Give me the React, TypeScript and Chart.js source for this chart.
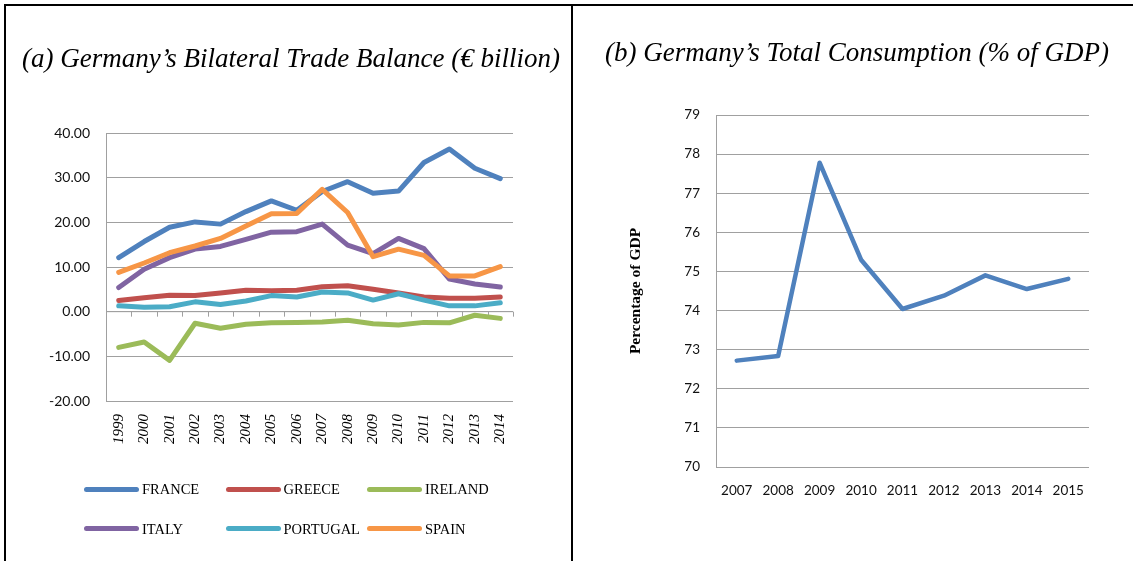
import React, { useEffect, useRef } from "react";
import { Chart, registerables } from "chart.js";

Chart.register(...registerables);

// ---------- Data: panel (a) ----------
const years = ["1999", "2000", "2001", "2002", "2003", "2004", "2005", "2006", "2007", "2008", "2009", "2010", "2011", "2012", "2013", "2014"];
const france = [12.1, 15.7, 18.9, 20.1, 19.6, 22.4, 24.8, 22.7, 26.9, 29.1, 26.5, 27.0, 33.4, 36.4, 32.1, 29.8];
const greece = [2.5, 3.1, 3.7, 3.6, 4.2, 4.8, 4.7, 4.8, 5.6, 5.8, 5.0, 4.2, 3.3, 3.0, 3.0, 3.3];
const ireland = [-8.0, -6.8, -10.9, -2.6, -3.7, -2.8, -2.5, -2.4, -2.3, -1.9, -2.7, -3.0, -2.4, -2.5, -0.8, -1.5];
const italy = [5.4, 9.5, 12.1, 14.0, 14.6, 16.2, 17.8, 17.9, 19.6, 14.9, 13.0, 16.4, 14.1, 7.3, 6.2, 5.5];
const portugal = [1.3, 1.0, 1.1, 2.2, 1.6, 2.4, 3.6, 3.3, 4.4, 4.2, 2.6, 4.0, 2.6, 1.3, 1.3, 2.0];
const spain = [8.8, 10.9, 13.2, 14.7, 16.4, 19.2, 21.9, 22.0, 27.4, 22.2, 12.3, 14.0, 12.6, 8.0, 8.0, 10.1];
const seriesNames = ["FRANCE", "GREECE", "IRELAND", "ITALY", "PORTUGAL", "SPAIN"];
const seriesValues = [france, greece, ireland, italy, portugal, spain];
const seriesColors = ["#4F81BD", "#C0504D", "#9BBB59", "#8064A2", "#4BACC6", "#F79646"];
const tradeMin = -20;
const tradeMax = 40;
const tradeStep = 10;

// ---------- Data: panel (b) ----------
const consYears = ["2007", "2008", "2009", "2010", "2011", "2012", "2013", "2014", "2015"];
const consumption = [72.72, 72.84, 77.78, 75.3, 74.04, 74.38, 74.9, 74.55, 74.81];
const consMin = 70;
const consMax = 79;
const consStep = 1;

const titleA = "(a) Germany\u2019s Bilateral Trade Balance (\u20AC billion)";
const titleB = "(b) Germany\u2019s Total Consumption (% of GDP)";
const yTitleB = "Percentage of GDP";

const gridColor = "#A0A0A0";
const sansFont = "Lato, 'Open Sans', sans-serif";
const serifFont = "'Liberation Serif', 'DejaVu Serif', serif";

const zeroAxisPlugin = {
  id: "zeroAxis",
  beforeDatasetsDraw(chart: any) {
    const { ctx, chartArea, scales } = chart;
    const y0 = scales.y.getPixelForValue(0);
    const xs = scales.x;
    const n = xs.ticks.length;
    ctx.save();
    ctx.strokeStyle = gridColor;
    ctx.lineWidth = 1;
    ctx.beginPath();
    ctx.moveTo(chartArea.left, y0);
    ctx.lineTo(chartArea.right, y0);
    for (let i = 0; i <= n; i++) {
      const x = Math.round(xs.getPixelForValue(i - 0.5)) + 0.5;
      ctx.moveTo(x, y0);
      ctx.lineTo(x, y0 + 5);
    }
    ctx.stroke();
    ctx.restore();
  },
};

export default function App() {
  const leftRef = useRef<HTMLCanvasElement>(null);
  const rightRef = useRef<HTMLCanvasElement>(null);

  useEffect(() => {
    const left = new Chart(leftRef.current!, {
      type: "line",
      data: {
        labels: years,
        datasets: seriesValues.map((d, i) => ({
          label: seriesNames[i],
          data: d,
          borderColor: seriesColors[i],
          backgroundColor: seriesColors[i],
          borderWidth: 5,
          pointRadius: 0,
          tension: 0,
          borderJoinStyle: "round" as const,
          borderCapStyle: "round" as const,
          order: seriesValues.length - i,
        })),
      },
      options: {
        responsive: false,
        animation: false,
        layout: { padding: { left: 0, top: 133, right: 58, bottom: 0 } },
        plugins: { legend: { display: false }, tooltip: { enabled: false }, title: { display: false } },
        scales: {
          x: {
            offset: true,
            grid: { display: false },
            border: { display: false },
            ticks: {
              minRotation: 90,
              maxRotation: 90,
              autoSkip: false,
              padding: 5,
              color: "#000",
              font: { family: serifFont, style: "italic", size: 15 },
            },
            afterFit: (s: any) => {
              s.height = 160;
            },
          },
          y: {
            min: tradeMin,
            max: tradeMax,
            ticks: {
              stepSize: tradeStep,
              padding: 16,
              color: "#111",
              font: { family: sansFont, size: 14 },
              callback: (v: any) => Number(v).toFixed(2),
            },
            grid: { color: gridColor, lineWidth: 1, drawTicks: false },
            border: { display: true, color: gridColor, width: 1 },
            afterFit: (s: any) => {
              s.width = 106;
            },
          },
        },
      },
      plugins: [zeroAxisPlugin],
    } as any);

    const right = new Chart(rightRef.current!, {
      type: "line",
      data: {
        labels: consYears,
        datasets: [
          {
            label: "Consumption",
            data: consumption,
            borderColor: "#4F81BD",
            backgroundColor: "#4F81BD",
            borderWidth: 4.5,
            pointRadius: 0,
            tension: 0,
            borderJoinStyle: "round" as const,
            borderCapStyle: "round" as const,
          },
        ],
      },
      options: {
        responsive: false,
        animation: false,
        layout: { padding: { left: 0, top: 115, right: 44, bottom: 0 } },
        plugins: { legend: { display: false }, tooltip: { enabled: false }, title: { display: false } },
        scales: {
          x: {
            offset: true,
            grid: { display: false },
            border: { display: false },
            ticks: {
              maxRotation: 0,
              autoSkip: false,
              padding: 8,
              color: "#111",
              font: { family: sansFont, size: 13.5 },
            },
            afterFit: (s: any) => {
              s.height = 94;
            },
          },
          y: {
            min: consMin,
            max: consMax,
            ticks: {
              stepSize: consStep,
              padding: 16,
              color: "#111",
              font: { family: sansFont, size: 13.5 },
            },
            grid: { color: gridColor, lineWidth: 1, drawTicks: false },
            border: { display: true, color: gridColor, width: 1 },
            title: {
              display: true,
              text: yTitleB,
              color: "#000",
              font: { family: serifFont, weight: "bold", size: 15.5 },
              padding: { top: 54, bottom: 0 },
            },
            afterFit: (s: any) => {
              s.width = 143;
            },
          },
        },
      },
    } as any);

    return () => {
      left.destroy();
      right.destroy();
    };
  }, []);

  return (
    <div style={{ position: "absolute", left: 0, top: 0, width: 1133, height: 561, overflow: "hidden", background: "#fff" }}>
      <canvas ref={leftRef} width={571} height={561} style={{ position: "absolute", left: 0, top: 0 }} />
      <canvas ref={rightRef} width={560} height={561} style={{ position: "absolute", left: 573, top: 0 }} />
      {/* frame lines */}
      <div style={{ position: "absolute", left: 4, top: 4, width: 1129, height: 2, background: "#000" }} />
      <div style={{ position: "absolute", left: 4, top: 4, width: 2, height: 557, background: "#000" }} />
      <div style={{ position: "absolute", left: 571, top: 4, width: 2, height: 557, background: "#000" }} />
      {/* titles */}
      <div
        style={{
          position: "absolute",
          left: 22,
          top: 42,
          lineHeight: "32px",
          fontFamily: serifFont,
          fontStyle: "italic",
          fontSize: 27,
          whiteSpace: "nowrap",
          color: "#000",
        }}
      >
        {titleA}
      </div>
      <div
        style={{
          position: "absolute",
          left: 605,
          top: 36,
          lineHeight: "32px",
          fontFamily: serifFont,
          fontStyle: "italic",
          fontSize: 27,
          whiteSpace: "nowrap",
          color: "#000",
        }}
      >
        {titleB}
      </div>
      {/* legend for panel (a) */}
      {seriesNames.map((name, i) => {
        const row = Math.floor(i / 3);
        const col = i % 3;
        return (
          <div
            key={name}
            style={{
              position: "absolute",
              left: 84 + col * 141.5,
              top: 479 + row * 39.5,
              height: 20,
              display: "flex",
              alignItems: "center",
              whiteSpace: "nowrap",
            }}
          >
            <div style={{ width: 55, height: 5, borderRadius: 3, background: seriesColors[i] }} />
            <span style={{ marginLeft: 3, fontFamily: serifFont, fontSize: 14.5, color: "#000", lineHeight: "20px" }}>{name}</span>
          </div>
        );
      })}
    </div>
  );
}
